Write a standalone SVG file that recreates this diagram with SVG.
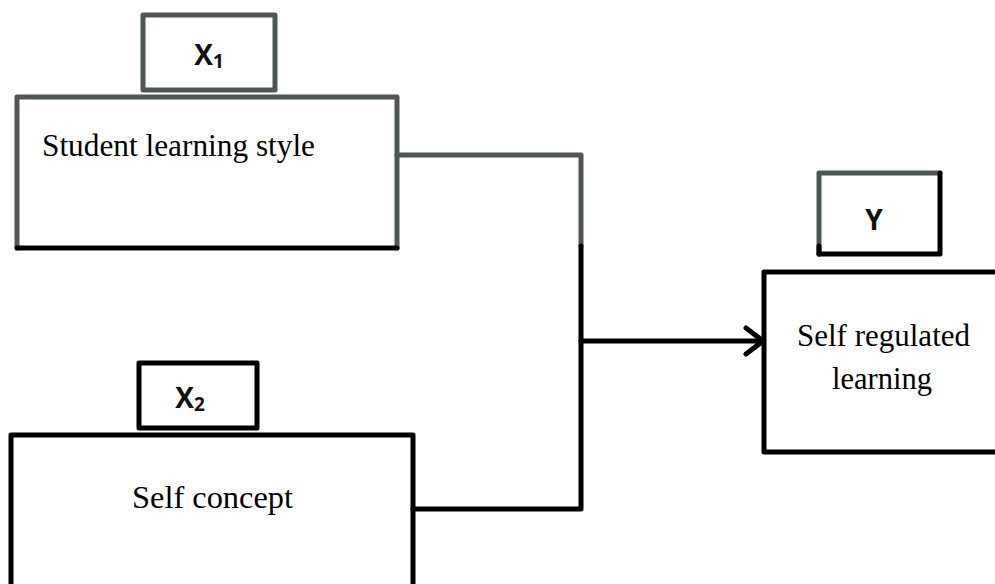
<svg xmlns="http://www.w3.org/2000/svg" width="995" height="584" viewBox="0 0 995 584">
<style>
.box{fill:none;stroke:#000;stroke-width:5;stroke-linejoin:round;stroke-linecap:round}
.gbox{fill:none;stroke:#4f5752;stroke-width:5;stroke-linejoin:round;stroke-linecap:round}
.lbl{font-family:"Open Sans","Liberation Sans",sans-serif;font-weight:bold;font-size:28px;fill:#111}
.txt{font-family:"Liberation Serif","Times New Roman",serif;font-size:32px;fill:#000}
.conn{fill:none;stroke:#000;stroke-width:5;stroke-linejoin:round;stroke-linecap:round}
</style>
<rect width="995" height="584" fill="#fff"/>
<g id="x1-label">
<rect class="gbox" x="143" y="15" width="132" height="75"/>
<text class="lbl" x="209" y="65" text-anchor="middle" fill="#3c4440">X<tspan font-size="19" dy="3">1</tspan></text>
</g>
<g id="student-learning-style">
<path class="gbox" d="M17,248 L17,97 L397,97 L397,248"/>
<path class="box" d="M17,248 L397,248"/>
<text class="txt" x="42" y="156" font-size="31" fill="#555" textLength="273" lengthAdjust="spacingAndGlyphs">Student learning style</text>
</g>
<g id="x2-label">
<rect class="box" x="139" y="363" width="118" height="65"/>
<text class="lbl" x="190" y="408" text-anchor="middle">X<tspan font-size="19" dy="3">2</tspan></text>
</g>
<g id="self-concept">
<path class="box" d="M11,590 L11,435 L413,435 L413,590"/>
<text class="txt" x="132" y="508" textLength="161" lengthAdjust="spacingAndGlyphs">Self concept</text>
</g>
<g id="y-label">
<path class="gbox" d="M819,254 L819,173 L940,173"/>
<path class="box" d="M819,254 L940,254 L940,173"/>
<path class="box" d="M819,254 L819,246"/>
<text class="lbl" x="874" y="230" text-anchor="middle" fill="#777" font-size="28">Y</text>
</g>
<g id="self-regulated-learning">
<path class="box" d="M1000,272 L764,272 L764,452 L1000,452"/>
<text class="txt" x="797" y="346" textLength="173" lengthAdjust="spacingAndGlyphs">Self regulated</text>
<text class="txt" x="832" y="389" textLength="100" lengthAdjust="spacingAndGlyphs">learning</text>
</g>
<g id="connectors">
<path class="gbox" d="M397,155 L581,155 L581,246"/>
<path class="conn" d="M581,246 L581,509 L413,509"/>
<path class="conn" d="M581,341 L763,341"/>
<path class="conn" d="M746,328 L763,341 L746,354" stroke-width="6"/>
</g>
</svg>
